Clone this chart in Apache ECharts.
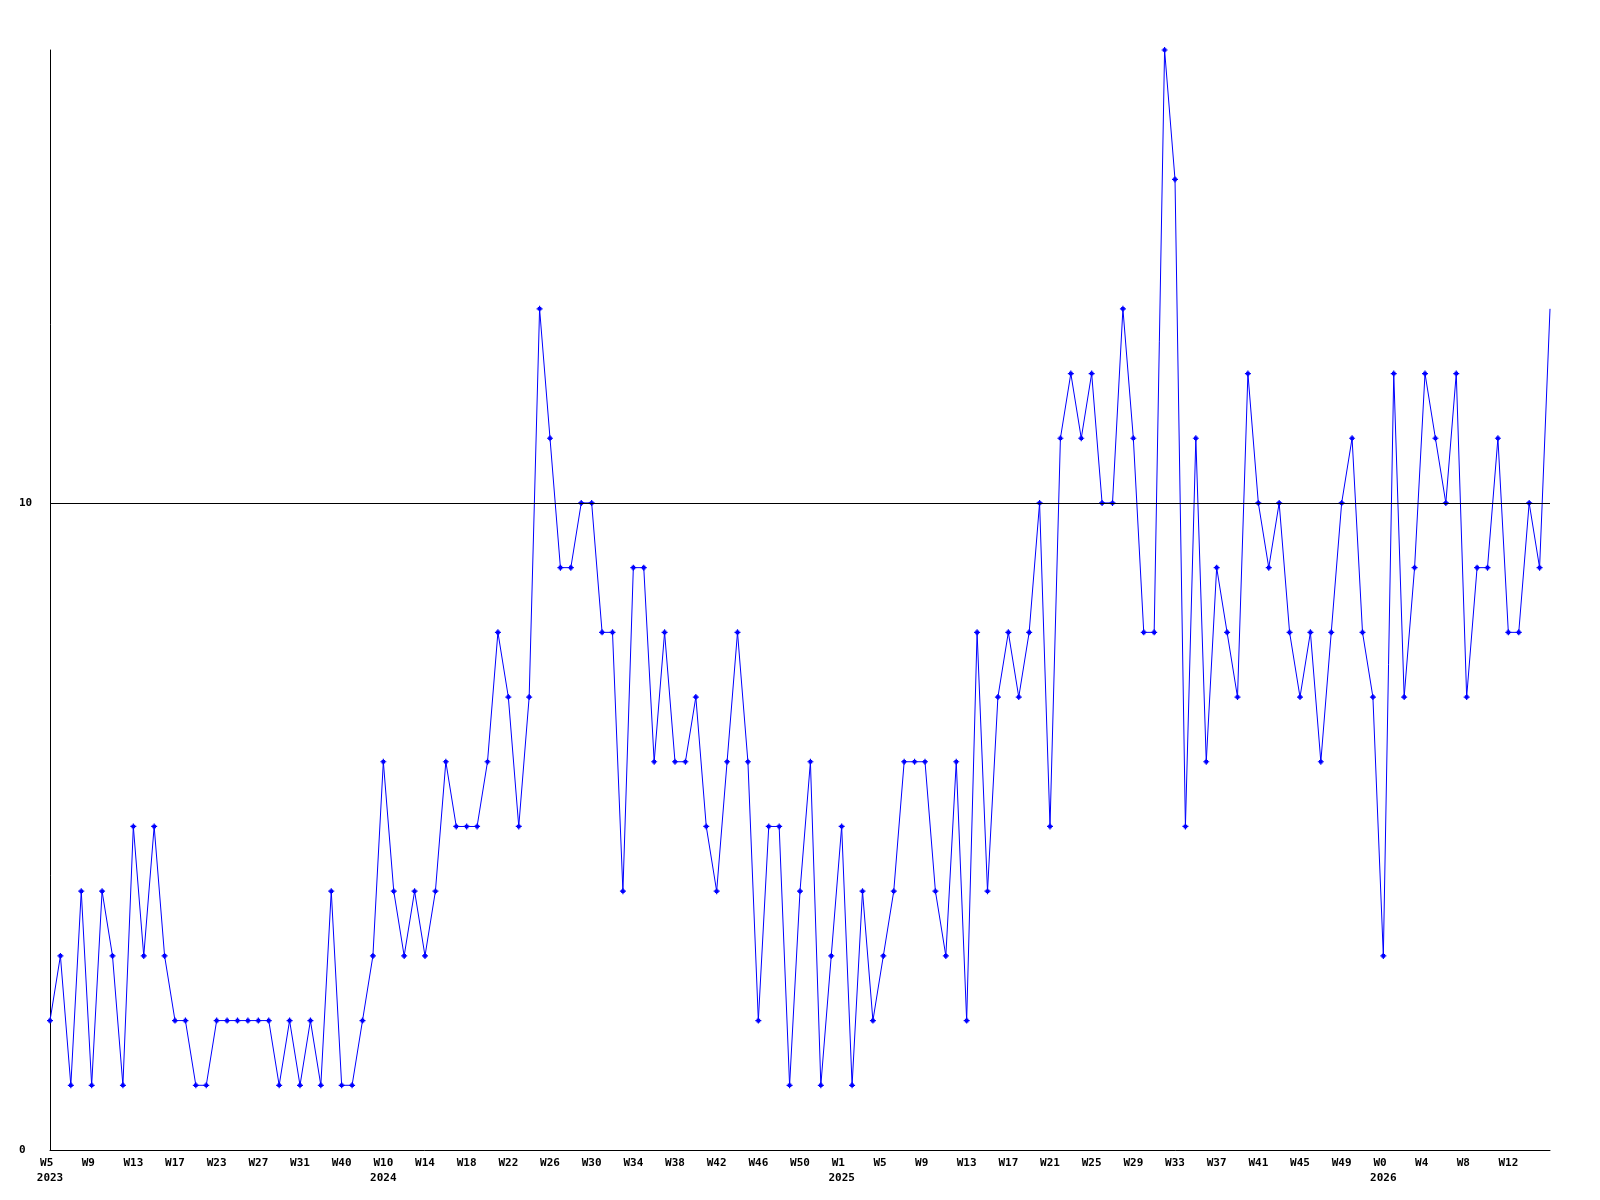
<!DOCTYPE html>
<html>
<head>
<meta charset="utf-8">
<script src="https://cdn.jsdelivr.net/npm/echarts@6/dist/echarts.min.js"></script>
<style>
  html, body { margin: 0; padding: 0; background: #fff; }
  #chart { width: 1600px; height: 1200px; }
</style>
</head>
<body>
<div id="chart"></div>
<script>
// Weekly values (one per category position)
const values = [
  2,3,1,4,1,4,3,1,5,3,
  5,3,2,2,1,1,2,2,2,2,
  2,2,1,2,1,2,1,4,1,1,
  2,3,6,4,3,4,3,4,6,5,
  5,5,6,8,7,5,7,13,11,9,
  9,10,10,8,8,4,9,9,6,8,
  6,6,7,5,4,6,8,6,2,5,
  5,1,4,6,1,3,5,1,4,2,
  3,4,6,6,6,4,3,6,2,8,
  4,7,8,7,8,10,5,11,12,11,
  12,10,10,13,11,8,8,17,15,5,
  11,6,9,8,7,12,10,9,10,8,
  7,8,6,8,10,11,8,7,3,12,
  7,9,12,11,10,12,7,9,9,11,
  8,8,10,9,13
];

// Tick labels shown every 4th category
const tickLabels = [
  'W5\n2023','W9','W13','W17','W23','W27','W31','W40',
  'W10\n2024','W14','W18','W22','W26','W30','W34','W38','W42','W46','W50',
  'W1\n2025','W5','W9','W13','W17','W21','W25','W29','W33','W37','W41','W45','W49',
  'W0\n2026','W4','W8','W12'
];
const tickStep = 4;

const yLabels = [0, 10];
const gridLines = [10];
const yMax = 17;

const categories = values.map((_, i) => String(i));

const chart = echarts.init(document.getElementById('chart'), null, { renderer: 'canvas' });

const font = {
  fontFamily: 'DejaVu Sans Mono',
  fontWeight: 'bold',
  fontSize: 11,
  color: '#000'
};

const plusPath = 'path://M2,0H3V1H4V2H5V3H4V4H3V5H2V4H1V3H0V2H1V1H2Z';

// week labels are drawn left-anchored in the original; pad short ones so the
// centred monospace text starts at the same place
function fmtTick(label) {
  return label.split('\n').map(l => l.startsWith('W') ? l.padEnd(3, ' ') : l).join('\n');
}

chart.setOption({
  animation: false,
  backgroundColor: '#fff',
  grid: { left: 50, right: 50, top: 50, bottom: 50, containLabel: false },
  xAxis: {
    type: 'category',
    data: categories,
    boundaryGap: false,
    axisLine: { show: true, lineStyle: { color: '#000', width: 1 } },
    axisTick: { show: false },
    splitLine: { show: false },
    axisLabel: Object.assign({}, font, {
      interval: tickStep - 1,
      hideOverlap: false,
      margin: 6,
      lineHeight: 15,
      formatter: (v, i) => (i % tickStep === 0 ? fmtTick(tickLabels[i / tickStep] || '') : '')
    })
  },
  yAxis: {
    type: 'value',
    min: 0,
    max: yMax,
    interval: 10,
    axisLine: { show: true, lineStyle: { color: '#000', width: 1 } },
    axisTick: { show: false },
    splitLine: { show: false },
    axisLabel: Object.assign({}, font, {
      align: 'left',
      margin: 31,
      formatter: v => (yLabels.includes(v) ? String(v) : '')
    })
  },
  series: [{
    type: 'line',
    data: values.map((v, i) => i === values.length - 1 ? { value: v, symbol: 'none' } : v),
    symbol: plusPath,
    symbolSize: 6,
    showAllSymbol: true,
    clip: false,
    lineStyle: { color: '#0000ff', width: 1 },
    itemStyle: { color: '#0000ff', borderWidth: 0 },
    markLine: {
      silent: true,
      symbol: 'none',
      label: { show: false },
      lineStyle: { color: '#000', type: 'solid', width: 1 },
      data: gridLines.map(g => ({ yAxis: g }))
    },
    z: 3
  }]
});
</script>
</body>
</html>
